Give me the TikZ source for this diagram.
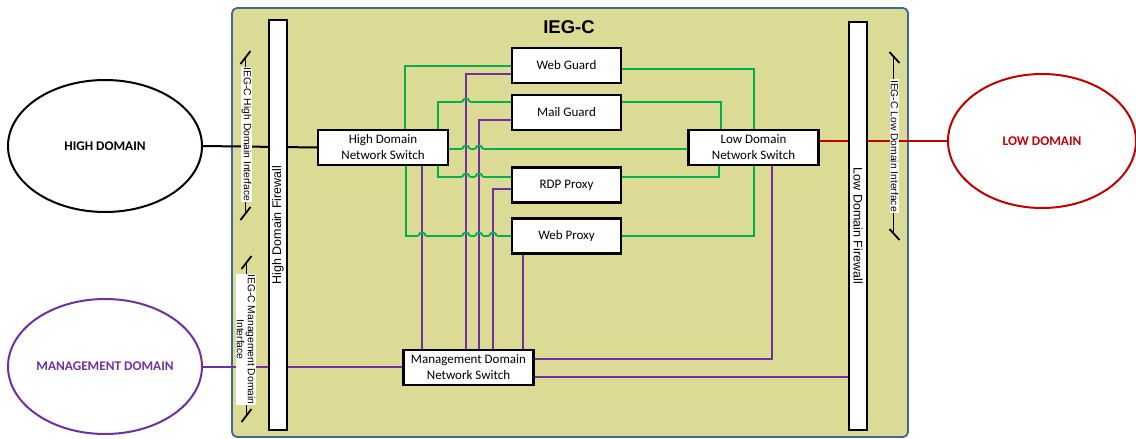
\documentclass[tikz,border=0pt]{standalone}
\usepackage{fontspec}
\setmainfont{Carlito}
\newfontfamily\arialf{Liberation Sans}
\usetikzlibrary{shapes.geometric,calc}
\definecolor{khaki}{RGB}{220,219,150}
\definecolor{frameblue}{RGB}{65,105,150}
\definecolor{grn}{RGB}{0,176,80}
\definecolor{pur}{RGB}{112,48,160}
\definecolor{redc}{RGB}{192,0,0}
\pgfdeclarelayer{back}
\pgfdeclarelayer{wires}
\pgfsetlayers{back,wires,main}
\newcommand\hopg[2]{%
  \fill[khaki] (#1-3.6,#2-1.6) rectangle (#1+3.6,#2+1.6);
  \draw[pw] (#1,#2-3.5) -- (#1,#2+3.5);
  \draw[gw] (#1-3.6,#2) .. controls (#1-3.6,#2-4.5) and (#1+3.6,#2-4.5) .. (#1+3.6,#2);}
\begin{document}
\begin{tikzpicture}[x=1pt,y=-1pt,
  box/.style={draw=black, line width=2.3pt, fill=white, minimum width=109pt, minimum height=35pt, inner sep=0pt, font=\fontsize{13}{16}\selectfont, align=center},
  sw/.style={box, minimum width=130pt},
  dom/.style={ellipse, line width=2pt, fill=white, inner sep=0pt, font=\bfseries\fontsize{13.3}{15}\selectfont},
  fw/.style={draw=black, line width=2.3pt, fill=white, minimum height=18pt, inner sep=0pt, font=\arialf\fontsize{12.5}{14}\selectfont},
  ifl/.style={fill=white, inner sep=1pt, rotate=-90, font=\arialf\fontsize{10.3}{11}\selectfont, align=center},
  gw/.style={draw=grn, line width=2pt},
  pw/.style={draw=pur, line width=2pt},
  ifline/.style={draw=black, line width=1.8pt},
]
\useasboundingbox (0,0) rectangle (1136,439);

\begin{pgfonlayer}{back}
\node[draw=frameblue, fill=khaki, line width=1.8pt, rounded corners=5pt, minimum width=676pt, minimum height=429pt, inner sep=0pt] (ieg) at (570,222.5) {};
\end{pgfonlayer}

\node[font=\arialf\bfseries\fontsize{18.5}{20}\selectfont] (title) at (569,27) {IEG-C};

% domains
\node[dom, draw=black, minimum width=194pt, minimum height=132pt] (hd) at (105,146) {HIGH DOMAIN};
\node[dom, draw=redc, text=redc, minimum width=188pt, minimum height=134pt] (ld) at (1042,141) {LOW DOMAIN};
\node[dom, draw=pur, text=pur, minimum width=194pt, minimum height=135pt] (md) at (105,366.5) {MANAGEMENT DOMAIN};

% boxes
\node[sw] (hs) at (383,147.5) {High Domain\\Network Switch};
\node[sw] (ls) at (753.5,147.5) {Low Domain\\Network Switch};
\node[box] (wg) at (566.5,65.5) {Web Guard};
\node[box] (mg) at (566.5,112.5) {Mail Guard};
\node[box] (rdp) at (566.5,185) {RDP Proxy};
\node[box] (wp) at (566.5,236) {Web Proxy};
\node[sw] (ms) at (468.5,367.5) {Management Domain\\Network Switch};

% firewalls
\node[fw, rotate=90, minimum width=410pt] (hf) at (278,225) {High Domain Firewall};
\node[fw, rotate=-90, minimum width=408pt] (lf) at (858,226) {Low Domain Firewall};

% interface labels
\node[ifl] (hil) at (246.5,134.5) {IEG-C High Domain Interface};
\node[ifl] (lil) at (894.5,146) {IEG-C Low Domain Interface};
\node[ifl] (mil) at (246,339.5) {IEG-C Management Domain\\Interface};

\coordinate (hiT) at (245.5,57);
\coordinate (hiB) at (245.5,214);
\coordinate (miT) at (246.5,262);
\coordinate (miB) at (246.5,416);
\coordinate (liT) at (893.5,57);
\coordinate (liB) at (893.5,234);

\begin{pgfonlayer}{wires}
% domain links
\draw[line width=2pt] (hd.east) -- (hs.west);
\draw[draw=redc, line width=2pt] (ld.west) -- (ld.west -| ls.east);
\draw[pw] (md.east) -- (md.east -| ms.west);
% interface arrows
\draw[ifline] (hiT) -- (hiB);
\draw[ifline] ($(hiT)+(-5,7)$) -- ($(hiT)+(5,-6)$);
\draw[ifline] ($(hiB)+(-5,6)$) -- ($(hiB)+(5,-7)$);
\draw[ifline] (miT) -- (miB);
\draw[ifline] ($(miT)+(-5,7)$) -- ($(miT)+(5,-6)$);
\draw[ifline] ($(miB)+(-5,6)$) -- ($(miB)+(5,-7)$);
\draw[ifline] (liT) -- (liB);
\draw[ifline] ($(liT)+(-4,-5)$) -- ($(liT)+(6,6)$);
\draw[ifline] ($(liB)+(-4,-5)$) -- ($(liB)+(6,6)$);
% green, high side
\draw[gw] (wg.west |- 0,66) -| (hs.north -| 405,0);
\draw[gw] (mg.west |- 0,102) -| (hs.north -| 438,0);
\draw[gw] (hs.east |- 0,149) -- (ls.west |- 0,149);
\draw[gw] (hs.south -| 438,0) |- (rdp.west |- 0,177);
\draw[gw] (hs.south -| 406,0) |- (wp.west |- 0,236);
% green, low side
\draw[gw] (wg.east |- 0,69) -| (ls.north -| 754,0);
\draw[gw] (mg.east |- 0,102) -| (ls.north -| 721,0);
\draw[gw] (rdp.east |- 0,177) -| (ls.south -| 719,0);
\draw[gw] (wp.east |- 0,236) -| (ls.south -| 754,0);
% purple, management
\draw[pw] (hs.south -| 422,0) -- (ms.north -| 422,0);
\draw[pw] (wg.west |- 0,74) -| (ms.north -| 466,0);
\draw[pw] (mg.west |- 0,120) -| (ms.north -| 479,0);
\draw[pw] (rdp.west |- 0,189) -| (ms.north -| 493,0);
\draw[pw] (wp.south -| 523,0) -- (ms.north -| 523,0);
\draw[pw] (ms.east |- 0,359) -| (ls.south -| 772,0);
\draw[pw] (ms.east |- 0,377) -- (lf.south |- 0,377);
% line hops
\hopg{466}{102}
\hopg{466}{149}
\hopg{479}{149}
\hopg{466}{177}
\hopg{479}{177}
\hopg{422}{236}
\hopg{466}{236}
\hopg{479}{236}
\hopg{493}{236}
\end{pgfonlayer}
\end{tikzpicture}
\end{document}
